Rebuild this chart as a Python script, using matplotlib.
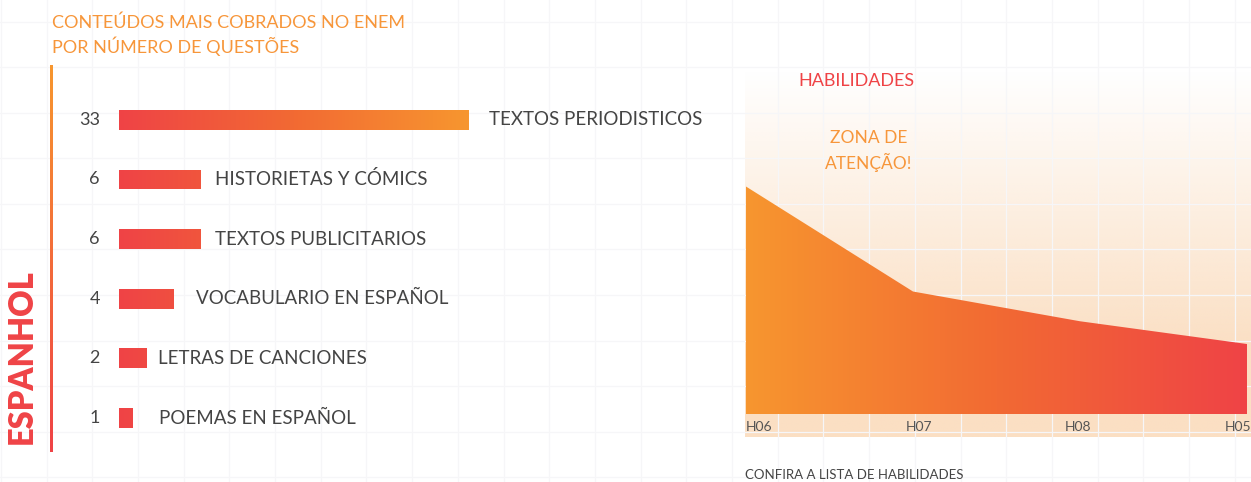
import numpy as np
import matplotlib as mpl
import matplotlib.pyplot as plt
from matplotlib.colors import LinearSegmentedColormap, to_rgb

mpl.rcParams['font.family'] = ['Lato', 'DejaVu Sans']

# data
categories = ['TEXTOS PERIODISTICOS', 'HISTORIETAS Y CÓMICS', 'TEXTOS PUBLICITARIOS',
              'VOCABULARIO EN ESPAÑOL', 'LETRAS DE CANCIONES', 'POEMAS EN ESPAÑOL']
questions = [33, 6, 6, 4, 2, 1]
skills = ['H06', 'H07', 'H08', 'H05']
skill_values = [13, 7, 5.3, 4]

# label gaps after each bar, in pixels (as laid out in the original)
label_gap = [20, 14, 14, 22, 12, 26]

W, H = 1251, 482
RED = '#ef4346'
ORANGE = '#f7962f'
GRAY = '#444444'
grad = LinearSegmentedColormap.from_list('g', [RED, '#f26a33', ORANGE])


def fx(x):
    return x / W


def fy(y):
    return 1 - y / H


fig = plt.figure(figsize=(W / 100, H / 100), dpi=100)
fig.patch.set_facecolor('white')

# background: faint grid and peach zone
bg = fig.add_axes([0, 0, 1, 1], zorder=-10)
bg.set_xlim(0, W)
bg.set_ylim(H, 0)
bg.axis('off')
for gx in np.arange(0.8, W, 45.7):
    bg.axvline(gx, color='#f6f6f8', lw=0.9)
for gy in np.arange(21.5, H, 45.6):
    bg.axhline(gy, color='#f6f6f8', lw=0.9)

peach = np.array(to_rgb('#fbdfc3'))
ys = np.linspace(70, 437, 200)
alpha = np.clip((ys - 70) / 280, 0, 1)
img = np.zeros((200, 2, 4))
img[:, :, :3] = peach
img[:, :, 3] = alpha[:, None]
bg.imshow(img, extent=[745, W, 437, 70], aspect='auto', interpolation='bilinear', zorder=1)

# left accent line (vertical gradient)
lax = fig.add_axes([fx(50), fy(452), fx(3), (452 - 65) / H])
lax.imshow(np.linspace(0, 1, 100)[:, None], cmap=LinearSegmentedColormap.from_list('v', [RED, ORANGE]),
           aspect='auto', extent=[0, 1, 0, 1], origin='lower')
lax.axis('off')

fig.text(fx(22), fy(357), 'ESPANHOL', rotation=90, ha='center', va='center',
         color=RED, fontsize=23.5, fontweight='heavy')

fig.text(fx(52), fy(23), 'CONTEÚDOS MAIS COBRADOS NO ENEM', color='#f7963a', fontsize=13, va='center')
fig.text(fx(52), fy(46), 'POR NÚMERO DE QUESTÕES', color='#f7963a', fontsize=13, va='center')

# bar chart
ax = fig.add_axes([fx(119), fy(452), fx(600), (452 - 65) / H])
ax.set_xscale('symlog', linthresh=6, linscale=0.2039)
ax.set_xlim(0, 162)
ax.set_ylim(5.57, -0.92)
ax.axis('off')
ypos = np.arange(len(categories))
bars = ax.barh(ypos, questions, height=0.335, color='none', edgecolor='none')
ax.figure.canvas.draw()
f33 = (ax.transData + ax.transAxes.inverted()).transform((max(questions), 0))[0]
for b, v, y, lab, gap in zip(bars, questions, ypos, categories, label_gap):
    im = ax.imshow(np.linspace(0, 1, 256)[None, :], cmap=grad, aspect='auto',
                   extent=[0, f33, 0, 1], transform=ax.transAxes, interpolation='bilinear')
    im.set_clip_path(b)
    ax.annotate(str(v), xy=(0, y), xytext=(-19, 0), textcoords='offset pixels',
                ha='right', va='center', color=GRAY, fontsize=13)
    ax.annotate(lab, xy=(v, y), xytext=(gap, 0), textcoords='offset pixels',
                ha='left', va='center', color=GRAY, fontsize=13.5)

# area chart
ax2 = fig.add_axes([fx(746), fy(414), fx(1247 - 746), (414 - 70) / H])
ax2.set_xlim(0, len(skills) - 1)
ax2.set_ylim(0, 19.66)
ax2.axis('off')
xs = np.arange(len(skills))
poly = ax2.fill_between(xs, skill_values, 0, color='none', lw=0)
im2 = ax2.imshow(np.linspace(0, 1, 256)[None, :],
                 cmap=LinearSegmentedColormap.from_list('h', [ORANGE, '#f26a33', RED]),
                 aspect='auto', extent=[0, len(skills) - 1, 0, 19.66], interpolation='bilinear')
im2.set_clip_path(poly.get_paths()[0], transform=ax2.transData)
for i, s in enumerate(skills):
    ax2.annotate(s, xy=(i, 0), xytext=(-7.5 * i, -13), textcoords='offset pixels',
                 ha='left', va='center', color='#555555', fontsize=10, annotation_clip=False)

fig.text(fx(798), fy(81), 'HABILIDADES', color=RED, fontsize=13, va='center')
fig.text(fx(869), fy(151), 'ZONA DE\nATENÇÃO!', color='#f7963a', fontsize=12.5,
         ha='center', va='center', linespacing=1.4)
fig.text(fx(745), fy(475), 'CONFIRA A LISTA DE HABILIDADES', color=GRAY, fontsize=9.5, va='center')

fig.savefig('out.png', dpi=100)
